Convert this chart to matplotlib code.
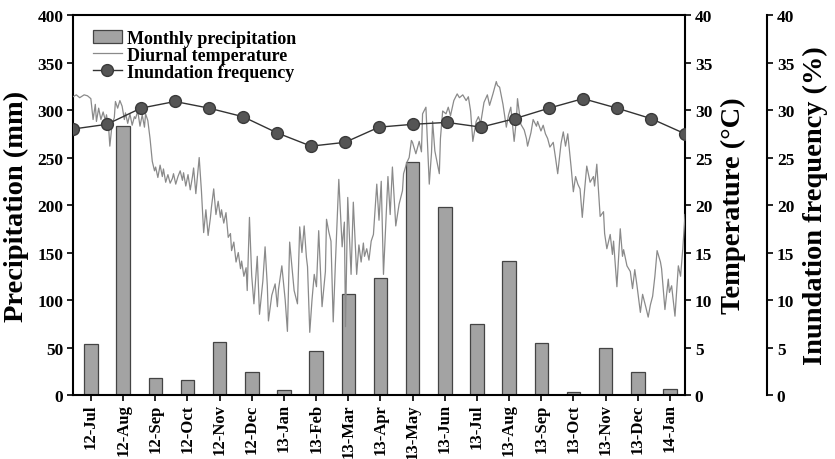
import numpy as np
import matplotlib.pyplot as plt
from matplotlib.lines import Line2D
from matplotlib.patches import Patch

plt.rcParams['font.family'] = 'Liberation Serif'
plt.rcParams['font.weight'] = 'bold'
plt.rcParams['axes.labelweight'] = 'bold'

# Monthly precipitation and inundation frequency, Jul 2012 - Jan 2014
months = ['12-Jul', '12-Aug', '12-Sep', '12-Oct', '12-Nov', '12-Dec', '13-Jan',
          '13-Feb', '13-Mar', '13-Apr', '13-May', '13-Jun', '13-Jul', '13-Aug',
          '13-Sep', '13-Oct', '13-Nov', '13-Dec', '14-Jan']
precip = [54, 283, 18, 16, 56, 24, 5, 46, 106, 123, 245, 198, 75, 141, 55, 3, 50, 24, 6]
inund_freq = [28.0, 28.5, 30.2, 30.9, 30.2, 29.3, 27.6, 26.2, 26.6, 28.2, 28.5, 28.7,
              28.2, 29.1, 30.2, 31.2, 30.2, 29.1, 27.5]

# Diurnal temperature (days since 1 Jul 2012, deg C)
temp_day = [0, 3, 6, 10, 13, 16, 18, 20, 21, 23, 25, 27, 29, 30, 32, 33, 35, 37, 38, 40,
            42, 44, 46, 47, 49, 51, 53, 55, 56, 58, 60, 62, 64, 65, 67, 69, 71, 73, 74, 76,
            78, 80, 81, 83, 85, 87, 89, 90, 92, 94, 96, 98, 99, 101, 103, 105, 107, 108, 110, 113,
            115, 117, 119, 121, 123, 124, 126, 128, 130, 132, 133, 135, 137, 139, 141, 142, 144, 146, 148, 150,
            151, 153, 155, 156, 158, 160, 162, 165, 167, 170, 172, 174, 175, 178, 181, 183, 184, 187, 190, 192,
            194, 196, 198, 201, 203, 205, 207, 209, 210, 212, 214, 216, 218, 220, 223, 226, 227, 229, 231, 233,
            235, 238, 241, 243, 244, 246, 249, 251, 254, 256, 258, 260, 261, 263, 265, 267, 269, 272, 274, 276,
            278, 282, 284, 286, 289, 292, 295, 296, 299, 301, 303, 304, 307, 310, 312, 313, 316, 319, 321, 322,
            324, 326, 328, 329, 331, 334, 336, 338, 341, 344, 346, 349, 352, 354, 356, 358, 361, 363, 365, 368,
            371, 373, 376, 379, 380, 382, 385, 388, 390, 392, 395, 397, 398, 401, 404, 406, 407, 410, 412, 415,
            416, 419, 421, 423, 425, 427, 430, 432, 434, 437, 439, 441, 443, 446, 448, 450, 452, 454, 456, 458,
            460, 463, 466, 467, 469, 472, 475, 476, 478, 481, 483, 484, 487, 490, 492, 493, 496, 499, 501, 503,
            505, 508, 510, 513, 515, 517, 519, 521, 523, 526, 527, 530, 533, 534, 536, 539, 542, 544, 546, 548]
temp_c = [31.4, 31.6, 31.3, 31.6, 31.5, 31.2, 29.0, 30.6, 28.8, 30.2, 29.0, 29.8, 28.9, 29.5, 28.0, 26.2, 28.5, 29.2, 30.9, 30.2,
          31.0, 30.4, 29.0, 29.7, 28.6, 29.6, 28.4, 29.3, 29.1, 29.9, 28.3, 29.5, 28.2, 29.6, 28.9, 27.0, 24.6, 23.6, 24.0, 22.9,
          24.2, 23.0, 23.8, 22.4, 23.2, 22.3, 22.8, 23.3, 22.2, 23.0, 23.6, 22.6, 23.4, 22.0, 23.2, 21.6, 23.0, 23.9, 21.2, 25.0,
          21.5, 17.1, 19.5, 16.8, 18.6, 19.8, 21.7, 19.0, 20.4, 18.7, 19.5, 18.1, 19.2, 16.6, 17.0, 15.2, 16.1, 14.0, 15.0, 13.3,
          14.1, 12.5, 13.4, 11.0, 18.7, 12.6, 9.6, 14.6, 8.5, 12.0, 15.6, 11.5, 7.8, 10.5, 11.7, 9.3, 11.1, 13.6, 10.0, 6.7,
          16.1, 13.5, 11.0, 9.6, 17.7, 15.0, 17.8, 14.5, 13.5, 6.6, 10.0, 12.7, 11.4, 17.3, 9.3, 13.0, 18.5, 17.2, 16.2, 7.7,
          14.0, 22.7, 15.6, 18.2, 7.2, 20.8, 12.7, 20.3, 12.7, 15.8, 14.0, 16.0, 14.6, 15.4, 14.2, 16.2, 16.9, 22.2, 18.4, 22.5,
          12.7, 23.0, 19.0, 24.0, 17.8, 20.1, 21.5, 23.3, 24.5, 25.0, 26.8, 26.6, 25.4, 26.7, 25.6, 29.6, 30.3, 22.2, 25.5, 28.8,
          25.7, 24.5, 23.3, 27.0, 29.9, 29.6, 30.3, 29.4, 31.0, 31.7, 31.3, 31.6, 31.0, 31.4, 29.9, 26.7, 28.8, 29.3, 28.6, 30.8,
          31.6, 30.5, 31.7, 33.0, 32.6, 32.4, 30.6, 28.2, 29.5, 30.3, 26.7, 29.0, 31.2, 28.5, 27.9, 27.0, 26.2, 27.6, 29.0, 28.3,
          28.8, 27.8, 28.4, 27.5, 27.0, 26.1, 26.6, 25.0, 23.3, 26.5, 27.7, 26.2, 27.5, 24.0, 21.4, 23.0, 22.2, 21.7, 18.7, 21.5,
          24.1, 22.4, 23.0, 22.0, 24.3, 18.8, 19.3, 17.0, 15.4, 16.9, 14.8, 16.2, 11.4, 17.5, 14.6, 15.3, 13.6, 13.0, 11.2, 13.2,
          11.5, 8.7, 10.6, 9.2, 8.2, 9.5, 10.4, 12.5, 15.2, 14.0, 13.3, 9.0, 12.2, 10.8, 11.5, 8.3, 13.6, 12.5, 15.4, 19.0]

BAR_COLOR = '#a3a3a3'
TEMP_COLOR = '#8a8a8a'
FREQ_COLOR = '#555555'

fig = plt.figure(figsize=(8.35, 4.6), dpi=100)
rect = [0.0874, 0.1391, 0.733, 0.826]

# ---- precipitation bars ----
ax = fig.add_axes(rect)
x = np.arange(len(months))
ax.bar(x, precip, width=0.42, color=BAR_COLOR, edgecolor='#444444', linewidth=0.9)
ax.set_xlim(-0.56, 18.47)
ax.set_ylim(0, 400)
ax.set_yticks(range(0, 401, 50))
ax.set_xticks(x)
ax.set_xticklabels(months, rotation=90)
ax.set_ylabel('Precipitation (mm)', fontsize=20.5, labelpad=6)

# ---- daily temperature ----
ax_t = fig.add_axes(rect)
ax_t.patch.set_visible(False)
for s in ax_t.spines.values():
    s.set_visible(False)
ax_t.plot(temp_day, temp_c, color=TEMP_COLOR, linewidth=0.9)
ax_t.set_xlim(0, 548)
ax_t.set_ylim(0, 40)
ax_t.set_yticks(range(0, 41, 5))
ax_t.xaxis.set_visible(False)
ax_t.yaxis.tick_right()
ax_t.yaxis.set_label_position('right')
ax_t.set_ylabel('Temperature (\u00b0C)', fontsize=20.5, labelpad=6)

# ---- inundation frequency ----
ax_f = fig.add_axes(rect)
ax_f.patch.set_visible(False)
for name, s in ax_f.spines.items():
    s.set_visible(name == 'right')
ax_f.spines['right'].set_position(('axes', 1.134))
ax_f.plot(np.arange(len(inund_freq)), inund_freq, color='#333333', linewidth=1.0,
          marker='o', markersize=8.5, markerfacecolor=FREQ_COLOR, markeredgecolor='#3a3a3a')
ax_f.set_xlim(0, 18)
ax_f.set_ylim(0, 40)
ax_f.set_yticks(range(0, 41, 5))
ax_f.xaxis.set_visible(False)
ax_f.yaxis.tick_right()
ax_f.yaxis.set_label_position('right')
ax_f.set_ylabel('Inundation frequency (%)', fontsize=20.5, labelpad=6)

for a in (ax, ax_t, ax_f):
    a.tick_params(direction='out', length=4, width=1.2, labelsize=12.5, pad=3)
    for s in a.spines.values():
        s.set_linewidth(1.5)
ax.tick_params(axis='x', labelsize=12, pad=2)

handles = [
    Patch(facecolor=BAR_COLOR, edgecolor='#444444', linewidth=0.9),
    Line2D([], [], color=TEMP_COLOR, linewidth=0.9),
    Line2D([], [], color='#333333', linewidth=1.0, marker='o', markersize=8.5,
           markerfacecolor=FREQ_COLOR, markeredgecolor='#3a3a3a'),
]
labels = ['Monthly precipitation', 'Diurnal temperature', 'Inundation frequency']
ax_f.legend(handles, labels, loc='upper left', bbox_to_anchor=(0.012, 0.995),
            frameon=False, fontsize=13, handlelength=1.6, handletextpad=0.3,
            labelspacing=0.0, borderpad=0.2)

fig.savefig('out.png', dpi=100)
